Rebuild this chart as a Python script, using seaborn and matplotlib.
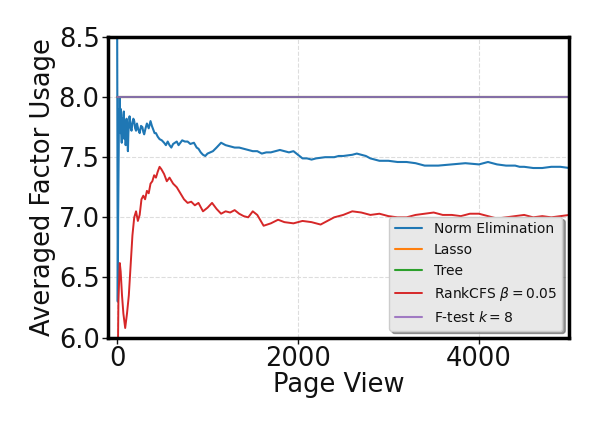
import numpy as np
import pandas as pd
import matplotlib
matplotlib.use("Agg")
import matplotlib.pyplot as plt
import seaborn as sns

# Norm Elimination
norm_x = [0, 8, 12, 15, 18, 22, 26, 30, 34, 38, 42, 45, 48, 52, 56, 60, 64, 68, 72, 75, 79, 83,
          87, 90, 95, 100, 105, 110, 115, 120, 125, 130, 138, 145, 152, 160, 170, 180, 190,
          200, 210, 220, 235, 250, 265, 280, 290, 300, 315, 330, 340, 350, 360, 370, 385, 400,
          415, 430, 450, 470, 495, 520, 540, 560, 580, 600, 620, 640, 660, 680, 700, 720, 750,
          780, 810, 850, 880, 900, 925, 950, 975, 1000, 1030, 1060, 1100, 1150, 1200, 1250,
          1300, 1350, 1400, 1450, 1500, 1550, 1600, 1650, 1700, 1750, 1800, 1850, 1900, 1950,
          2000, 2050, 2100, 2150, 2200, 2300, 2400, 2450, 2500, 2600, 2650, 2700, 2750, 2800,
          2900, 3000, 3100, 3200, 3300, 3400, 3550, 3700, 3850, 4000, 4100, 4150, 4200, 4300,
          4400, 4450, 4500, 4600, 4700, 4800, 4900, 5000]
norm_y = [9.0, 6.3, 7.0, 7.3, 7.6, 7.9, 7.75, 8.0, 7.8, 7.7, 7.9, 7.85, 7.7, 7.62, 7.82, 7.8,
          7.68, 7.72, 7.85, 7.88, 7.7, 7.65, 7.78, 7.8, 7.6, 7.68, 7.82, 7.78, 7.66, 7.55, 7.7,
          7.76, 7.84, 7.8, 7.74, 7.72, 7.78, 7.82, 7.8, 7.74, 7.72, 7.78, 7.73, 7.7, 7.76,
          7.75, 7.71, 7.69, 7.74, 7.78, 7.76, 7.74, 7.77, 7.8, 7.76, 7.73, 7.7, 7.7, 7.67,
          7.65, 7.64, 7.62, 7.6, 7.63, 7.6, 7.58, 7.61, 7.62, 7.63, 7.6, 7.62, 7.64, 7.63,
          7.63, 7.61, 7.62, 7.58, 7.57, 7.54, 7.52, 7.51, 7.53, 7.54, 7.55, 7.58, 7.62, 7.6,
          7.59, 7.58, 7.58, 7.57, 7.56, 7.55, 7.55, 7.53, 7.54, 7.54, 7.55, 7.56, 7.55, 7.54,
          7.55, 7.52, 7.49, 7.49, 7.48, 7.49, 7.5, 7.5, 7.51, 7.51, 7.52, 7.53, 7.52, 7.51,
          7.49, 7.47, 7.47, 7.46, 7.46, 7.45, 7.43, 7.43, 7.44, 7.45, 7.44, 7.46, 7.45, 7.44,
          7.43, 7.43, 7.42, 7.42, 7.41, 7.41, 7.42, 7.42, 7.41]

# RankCFS beta = 0.05
rank_x = [5, 15, 30, 40, 55, 70, 90, 110, 130, 150, 170, 190, 210, 230, 250, 270, 290, 310, 330,
          350, 370, 390, 410, 430, 450, 470, 490, 520, 550, 580, 620, 660, 700, 740, 780, 820,
          860, 900, 950, 1000, 1050, 1100, 1150, 1200, 1250, 1300, 1350, 1400, 1450, 1500, 1550,
          1620, 1700, 1780, 1850, 1950, 2050, 2150, 2250, 2300, 2400, 2500, 2600, 2700, 2800,
          2900, 3000, 3100, 3200, 3300, 3400, 3500, 3600, 3700, 3800, 3900, 4000, 4100, 4200,
          4300, 4400, 4500, 4600, 4700, 4800, 4900, 5000]
rank_y = [5.5, 6.3, 6.62, 6.55, 6.35, 6.2, 6.08, 6.2, 6.35, 6.6, 6.85, 7.0, 7.05, 6.97, 7.02,
          7.15, 7.18, 7.15, 7.22, 7.2, 7.28, 7.3, 7.35, 7.33, 7.38, 7.42, 7.4, 7.36, 7.3, 7.33,
          7.28, 7.25, 7.2, 7.15, 7.12, 7.13, 7.1, 7.12, 7.05, 7.08, 7.12, 7.07, 7.03, 7.05, 7.04,
          7.06, 7.03, 7.01, 7.0, 7.05, 7.02, 6.93, 6.95, 6.98, 6.96, 6.95, 6.97, 6.96, 6.94, 6.96,
          7.0, 7.02, 7.05, 7.04, 7.02, 7.03, 7.01, 7.0, 7.0, 7.02, 7.03, 7.04, 7.02, 7.02, 7.01,
          7.03, 7.03, 7.01, 6.99, 7.0, 7.01, 7.02, 7.0, 7.01, 7.0, 7.01, 7.02]

# flat methods (all sit at 8 factors)
flat_x = [0, 5000]
lasso_y = [8.0, 8.0]
tree_y = [8.0, 8.0]
ftest_y = [8.0, 8.0]

sns.set_style("whitegrid", {"grid.linestyle": "--", "grid.color": "#dddddd",
                            "text.color": "#111111", "axes.labelcolor": "#111111",
                            "xtick.color": "#111111", "ytick.color": "#111111"})

fig = plt.figure(figsize=(6, 4.29), dpi=100)
ax = fig.add_axes([0.18, 0.213, 0.769, 0.701])

sns.lineplot(x=norm_x, y=norm_y, ax=ax, color="#1f77b4", lw=1.5, label="Norm Elimination")
sns.lineplot(x=flat_x, y=lasso_y, ax=ax, color="#ff7f0e", lw=1.5, label="Lasso")
sns.lineplot(x=flat_x, y=tree_y, ax=ax, color="#2ca02c", lw=1.5, label="Tree")
sns.lineplot(x=rank_x, y=rank_y, ax=ax, color="#d62728", lw=1.4, label=r"RankCFS $\beta=0.05$")
sns.lineplot(x=flat_x, y=ftest_y, ax=ax, color="#9467bd", lw=1.5, alpha=0.85, label=r"F-test $k=8$")

ax.set_xlim(-100, 5000)
ax.set_ylim(6.0, 8.5)
ax.set_xticks([0, 2000, 4000])
ax.set_yticks([6.0, 6.5, 7.0, 7.5, 8.0, 8.5])
ax.set_yticklabels(["6.0", "6.5", "7.0", "7.5", "8.0", "8.5"])
ax.tick_params(labelsize=18.5, length=4, width=1, pad=2, bottom=True, left=True)
ax.set_xlabel("Page View", fontsize=18.5, labelpad=0)
ax.set_ylabel("Averaged Factor Usage", fontsize=18.5, labelpad=2)

for s in ax.spines.values():
    s.set_color("black")
    s.set_linewidth(2.5)

leg = ax.legend(loc="lower right", fontsize=10, shadow=True, frameon=True, fancybox=True)
leg.get_frame().set_facecolor("#e8e8e8")
leg.get_frame().set_edgecolor("#cccccc")
leg.get_frame().set_alpha(1)

plt.savefig("out.png", dpi=100)
